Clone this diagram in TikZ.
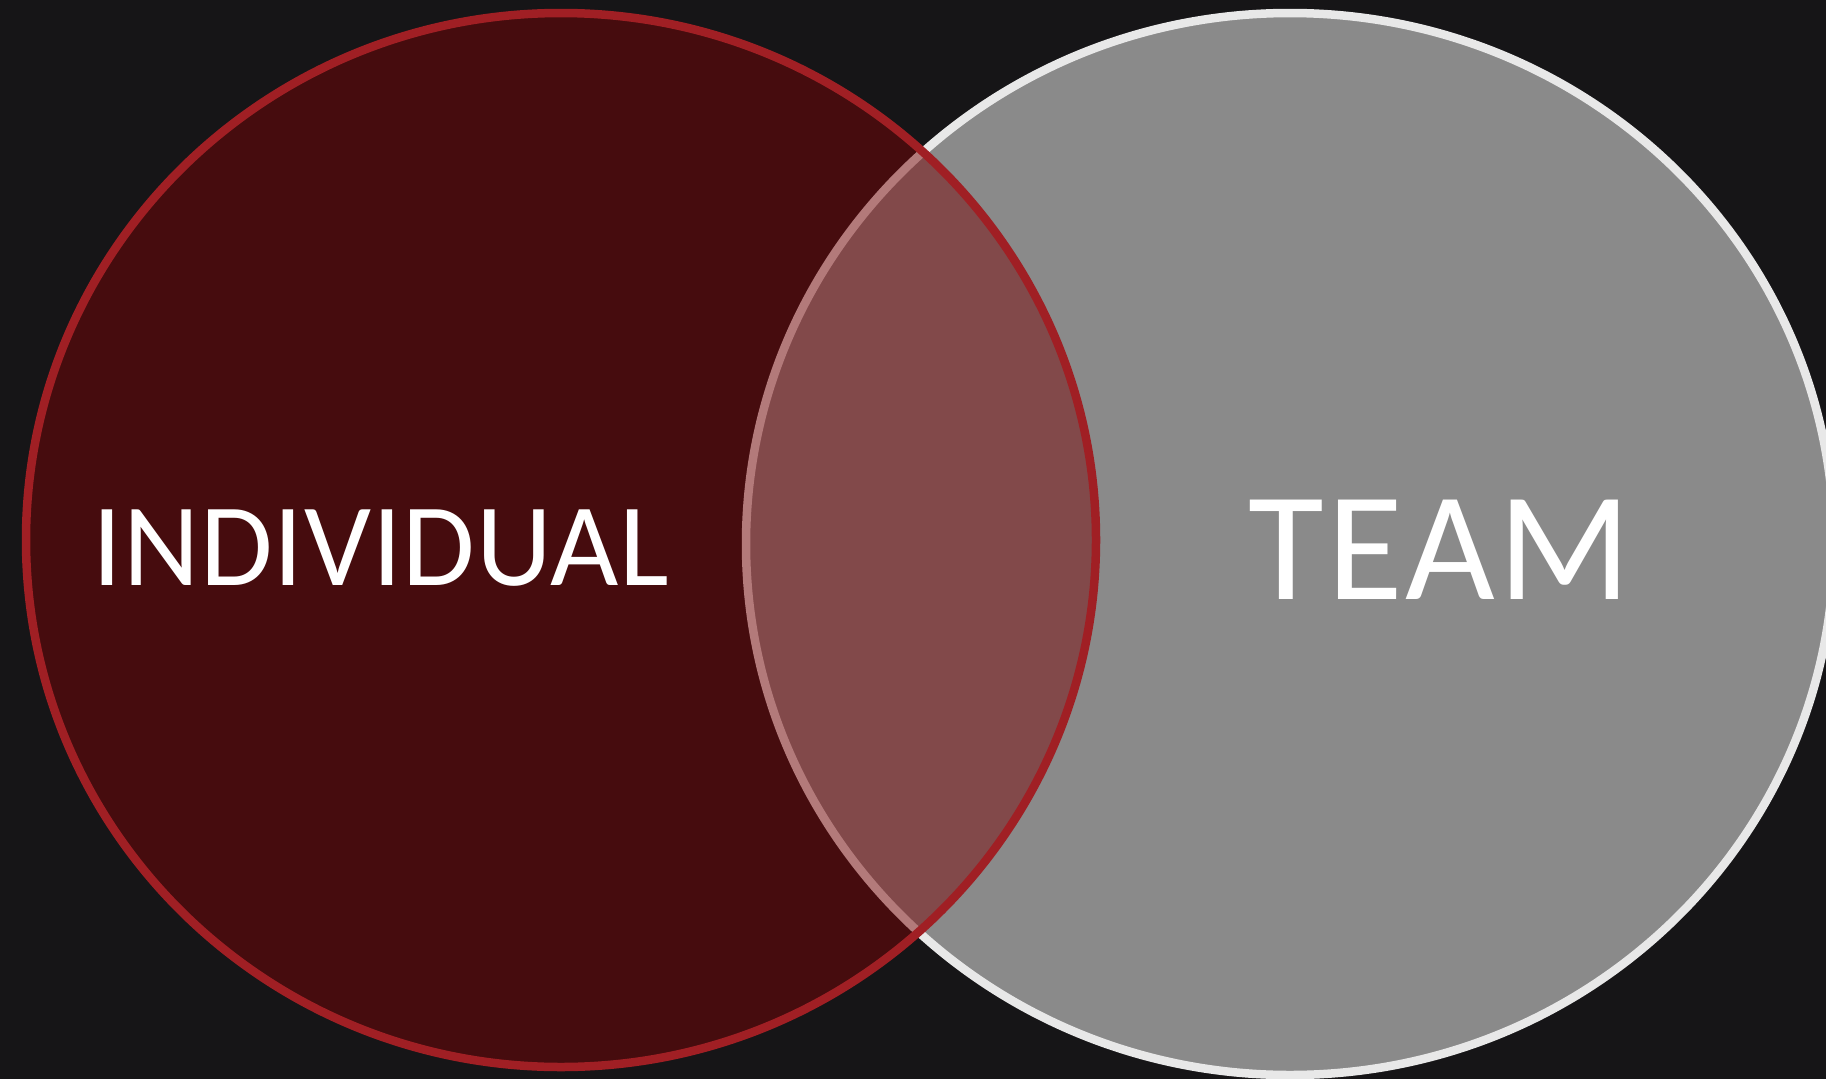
\documentclass[tikz,border=0pt]{standalone}
\usepackage{fontspec}
\usetikzlibrary{shapes.geometric}
\setmainfont{Carlito}
\definecolor{bgc}{RGB}{22,21,23}
\definecolor{redfill}{RGB}{123,4,6}
\definecolor{redline}{RGB}{160,31,36}
\definecolor{grayfill}{RGB}{138,138,138}
\definecolor{whiteline}{RGB}{232,232,232}
\begin{document}
\begin{tikzpicture}[x=1pt,y=-1pt,
  venn/.style={ellipse, inner sep=0pt, line width=8.5pt},
  lbl/.style={text=white, inner sep=0pt, anchor=base}]
\fill[bgc] (0,0) rectangle (1826,1079);
\useasboundingbox (0,0) rectangle (1826,1079);
\begin{scope}
\clip (0,0) rectangle (1826,1079);
\node[venn, minimum width=1088pt, minimum height=1062pt, fill=grayfill, draw=whiteline] (team) at (1290,544) {};
\node[venn, minimum width=1070pt, minimum height=1054pt, fill=redfill, fill opacity=0.483, draw=redline, draw opacity=1] (indiv) at (561,540) {};
\end{scope}
\node[lbl, font=\fontsize{118}{120}\selectfont\addfontfeature{LetterSpace=0.8}] (tind) at (381,585) {INDIVIDUAL};
\node[lbl, font=\fontsize{155}{160}\selectfont\addfontfeature{LetterSpace=2.3}] (tteam) at (1440,599) {TEAM};
\end{tikzpicture}
\end{document}
